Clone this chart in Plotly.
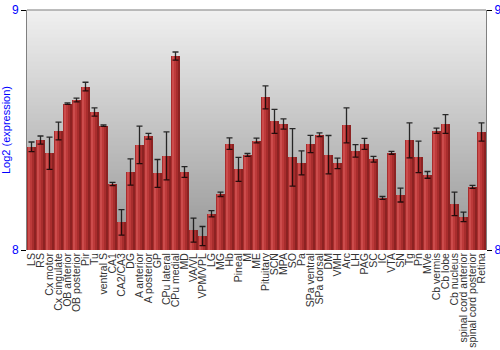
import plotly.graph_objects as go

regions = ["LS", "RS", "Cx motor", "Cx cingulate", "OB anterior", "OB posterior", "Pir", "Tu",
           "ventral S", "CA1", "CA2/CA3", "DG", "A anterior", "A posterior", "GP", "CPu lateral",
           "CPu medial", "MD", "VA/VL", "VPM/VPL", "LG", "MG", "Hb", "Pineal", "M", "ME",
           "Pituitary", "SCN", "MPA", "SO", "Pa", "SPa ventral", "SPa dorsal", "DM", "VMH", "Arc",
           "LH", "PAG", "SC", "IC", "VTA", "SN", "Tg", "Pn", "MVe", "Cb vermis", "Cb lobe",
           "Cb nucleus", "spinal cord anterior", "spinal cord posterior", "Retina"]

expression = [8.430, 8.458, 8.403, 8.496, 8.610, 8.625, 8.681, 8.575,
              8.518, 8.275, 8.115, 8.325, 8.438, 8.474, 8.319, 8.392,
              8.808, 8.325, 8.083, 8.058, 8.151, 8.232, 8.443, 8.336, 8.396, 8.456,
              8.636, 8.536, 8.525, 8.386, 8.363, 8.442, 8.480, 8.397, 8.361, 8.519,
              8.413, 8.442, 8.378, 8.217, 8.405, 8.229, 8.457, 8.388, 8.313, 8.497, 8.525,
              8.192, 8.138, 8.263, 8.492]

error = [0.020, 0.017, 0.067, 0.037, 0.003, 0.008, 0.018, 0.017,
         0.003, 0.007, 0.053, 0.055, 0.078, 0.012, 0.058, 0.100,
         0.017, 0.022, 0.050, 0.040, 0.013, 0.009, 0.024, 0.050, 0.006, 0.010,
         0.048, 0.050, 0.021, 0.120, 0.050, 0.036, 0.008, 0.080, 0.022, 0.073,
         0.026, 0.023, 0.012, 0.006, 0.006, 0.029, 0.073, 0.066, 0.014, 0.011, 0.039,
         0.049, 0.020, 0.006, 0.038]

y_min, y_max = 8, 9

fig = go.Figure()

# bar layers to mimic a cylindrical shading
layers = [
    (0.94, -0.47, "#8c2222"),
    (0.70, -0.47, "#a82d2d"),
    (0.45, -0.42, "#bd3a3a"),
    (0.18, -0.36, "#cc4c4c"),
]
for w, off, col in layers:
    fig.add_trace(go.Bar(
        x=regions, y=[v - y_min for v in expression], base=y_min,
        width=w, offset=off, marker=dict(color=col, line=dict(width=0)),
        hoverinfo="skip", showlegend=False,
    ))

fig.add_trace(go.Scatter(
    x=regions, y=expression, mode="markers",
    marker=dict(size=1, color="rgba(0,0,0,0)"),
    error_y=dict(type="data", array=error, color="rgba(0,0,0,0.8)", thickness=1.3, width=3),
    showlegend=False,
))

# invisible trace for right axis
fig.add_trace(go.Scatter(x=[regions[0]], y=[8.5], yaxis="y2", mode="markers",
                         marker=dict(color="rgba(0,0,0,0)"), showlegend=False, hoverinfo="skip"))

# gradient background
n = 60
shapes = []
top = (240, 240, 240)
bot = (150, 150, 150)
for i in range(n):
    t = i / (n - 1)
    c = tuple(int(round(top[k] + (bot[k] - top[k]) * t)) for k in range(3))
    shapes.append(dict(type="rect", xref="x domain", yref="y domain",
                       x0=0, x1=1, y0=1 - (i + 1) / n, y1=1 - i / n + 0.002,
                       fillcolor="rgb(%d,%d,%d)" % c, line=dict(width=0), layer="below"))

fig.update_layout(
    width=500, height=350,
    margin=dict(l=27, r=14, t=10, b=100),
    paper_bgcolor="white", plot_bgcolor="white",
    barmode="overlay", bargap=0,
    shapes=shapes,
    font=dict(family="Liberation Sans, Arial, sans-serif", size=10, color="#333"),
    xaxis=dict(type="category", tickangle=-90, tickfont=dict(size=10.5, color="#333"),
               tickmode="array", tickvals=regions, ticktext=regions, automargin=False,
               showgrid=False, showline=False, ticks="", range=[-0.5, len(regions) - 0.5]),
    yaxis=dict(range=[y_min, y_max], tickvals=[8, 9], ticks="outside", ticklen=5,
               tickcolor="#000", tickfont=dict(size=12, color="blue"), automargin=False,
               showgrid=False, zeroline=False, showline=True, linecolor="#808080",
               mirror=False, title=dict(text="Log2 (expression)", font=dict(size=11, color="blue"),
                                        standoff=2)),
    yaxis2=dict(range=[y_min, y_max], tickvals=[8, 9], overlaying="y", side="right",
                ticks="outside", ticklen=5, tickcolor="#000", automargin=False,
                tickfont=dict(size=12, color="blue"), showgrid=False, zeroline=False,
                showline=True, linecolor="#808080"),
)
fig.add_shape(type="line", xref="x domain", yref="y domain", x0=0, x1=1, y0=1, y1=1,
              line=dict(color="#808080", width=1))

fig.write_html("out.html")
